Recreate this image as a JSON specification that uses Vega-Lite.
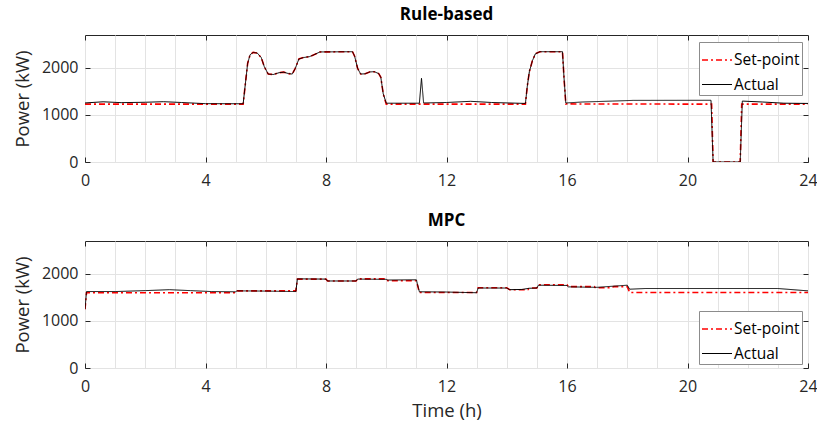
{
  "$schema": "https://vega.github.io/schema/vega-lite/v6.json",
  "padding": {"left": 12, "top": 5, "right": 5, "bottom": 5},
  "background": "white",
  "config": {
    "font": "Open Sans",
    "view": {"stroke": "#262626", "strokeWidth": 1},
    "axis": {
      "labelFont": "Open Sans", "labelFontSize": 16, "labelColor": "#262626",
      "titleFont": "Open Sans", "titleFontSize": 18.5, "titleFontWeight": "normal", "titleColor": "#262626",
      "gridColor": "#e3e3e3", "gridWidth": 1, "tickColor": "#262626", "domain": false
    },
    "legend": {
      "labelFont": "Open Sans", "labelFontSize": 15.5, "labelColor": "#000000",
      "symbolType": "stroke", "symbolSize": 900, "padding": 2, "strokeColor": "#8c8c8c",
      "fillColor": "white", "labelOffset": 1, "rowPadding": -7
    },
    "title": {"font": "Open Sans", "fontSize": 17, "fontWeight": "bold", "color": "#000000", "frame": "group", "baseline": "alphabetic", "offset": 11}
  },
  "datasets": {
    "rb": [
      {"t":0,"p":1230,"s":"Set-point"},{"t":5.25,"p":1230,"s":"Set-point"},{"t":5.33,"p":1700,"s":"Set-point"},{"t":5.4,"p":2100,"s":"Set-point"},{"t":5.48,"p":2280,"s":"Set-point"},{"t":5.58,"p":2330,"s":"Set-point"},{"t":5.72,"p":2315,"s":"Set-point"},{"t":5.85,"p":2220,"s":"Set-point"},{"t":5.95,"p":2030,"s":"Set-point"},{"t":6.08,"p":1870,"s":"Set-point"},{"t":6.25,"p":1860,"s":"Set-point"},{"t":6.45,"p":1900,"s":"Set-point"},{"t":6.6,"p":1910,"s":"Set-point"},{"t":6.75,"p":1880,"s":"Set-point"},{"t":6.88,"p":1870,"s":"Set-point"},{"t":6.98,"p":1990,"s":"Set-point"},{"t":7.1,"p":2190,"s":"Set-point"},{"t":7.25,"p":2220,"s":"Set-point"},{"t":7.45,"p":2240,"s":"Set-point"},{"t":7.6,"p":2280,"s":"Set-point"},{"t":7.8,"p":2340,"s":"Set-point"},{"t":8.88,"p":2345,"s":"Set-point"},{"t":8.95,"p":2250,"s":"Set-point"},{"t":9.05,"p":1990,"s":"Set-point"},{"t":9.15,"p":1870,"s":"Set-point"},{"t":9.3,"p":1875,"s":"Set-point"},{"t":9.45,"p":1915,"s":"Set-point"},{"t":9.6,"p":1920,"s":"Set-point"},{"t":9.75,"p":1880,"s":"Set-point"},{"t":9.82,"p":1800,"s":"Set-point"},{"t":9.9,"p":1450,"s":"Set-point"},{"t":10.0,"p":1230,"s":"Set-point"},{"t":14.62,"p":1230,"s":"Set-point"},{"t":14.68,"p":1600,"s":"Set-point"},{"t":14.75,"p":1920,"s":"Set-point"},{"t":14.85,"p":2150,"s":"Set-point"},{"t":14.95,"p":2300,"s":"Set-point"},{"t":15.1,"p":2345,"s":"Set-point"},{"t":15.85,"p":2345,"s":"Set-point"},{"t":15.9,"p":1800,"s":"Set-point"},{"t":15.96,"p":1235,"s":"Set-point"},{"t":20.8,"p":1230,"s":"Set-point"},{"t":20.85,"p":0,"s":"Set-point"},{"t":21.75,"p":0,"s":"Set-point"},{"t":21.8,"p":1230,"s":"Set-point"},{"t":24,"p":1230,"s":"Set-point"},
      {"t":0,"p":1255,"s":"Actual"},{"t":0.6,"p":1280,"s":"Actual"},{"t":1.2,"p":1262,"s":"Actual"},{"t":2.0,"p":1270,"s":"Actual"},{"t":2.6,"p":1282,"s":"Actual"},{"t":3.2,"p":1265,"s":"Actual"},{"t":4.0,"p":1240,"s":"Actual"},{"t":5.25,"p":1238,"s":"Actual"},{"t":5.33,"p":1700,"s":"Actual"},{"t":5.4,"p":2100,"s":"Actual"},{"t":5.48,"p":2280,"s":"Actual"},{"t":5.58,"p":2330,"s":"Actual"},{"t":5.72,"p":2315,"s":"Actual"},{"t":5.85,"p":2220,"s":"Actual"},{"t":5.95,"p":2030,"s":"Actual"},{"t":6.08,"p":1870,"s":"Actual"},{"t":6.25,"p":1860,"s":"Actual"},{"t":6.45,"p":1900,"s":"Actual"},{"t":6.6,"p":1910,"s":"Actual"},{"t":6.75,"p":1880,"s":"Actual"},{"t":6.88,"p":1870,"s":"Actual"},{"t":6.98,"p":1990,"s":"Actual"},{"t":7.1,"p":2190,"s":"Actual"},{"t":7.25,"p":2220,"s":"Actual"},{"t":7.45,"p":2240,"s":"Actual"},{"t":7.6,"p":2280,"s":"Actual"},{"t":7.8,"p":2340,"s":"Actual"},{"t":8.88,"p":2345,"s":"Actual"},{"t":8.95,"p":2250,"s":"Actual"},{"t":9.05,"p":1990,"s":"Actual"},{"t":9.15,"p":1870,"s":"Actual"},{"t":9.3,"p":1875,"s":"Actual"},{"t":9.45,"p":1915,"s":"Actual"},{"t":9.6,"p":1920,"s":"Actual"},{"t":9.75,"p":1880,"s":"Actual"},{"t":9.82,"p":1800,"s":"Actual"},{"t":9.9,"p":1450,"s":"Actual"},{"t":10.0,"p":1250,"s":"Actual"},{"t":11.1,"p":1250,"s":"Actual"},{"t":11.17,"p":1780,"s":"Actual"},{"t":11.24,"p":1255,"s":"Actual"},{"t":12.0,"p":1265,"s":"Actual"},{"t":12.8,"p":1290,"s":"Actual"},{"t":13.5,"p":1265,"s":"Actual"},{"t":14.62,"p":1245,"s":"Actual"},{"t":14.68,"p":1600,"s":"Actual"},{"t":14.75,"p":1920,"s":"Actual"},{"t":14.85,"p":2150,"s":"Actual"},{"t":14.95,"p":2300,"s":"Actual"},{"t":15.1,"p":2345,"s":"Actual"},{"t":15.85,"p":2345,"s":"Actual"},{"t":15.9,"p":1800,"s":"Actual"},{"t":15.96,"p":1255,"s":"Actual"},{"t":16.5,"p":1275,"s":"Actual"},{"t":17.5,"p":1295,"s":"Actual"},{"t":18.2,"p":1310,"s":"Actual"},{"t":20.78,"p":1312,"s":"Actual"},{"t":20.85,"p":0,"s":"Actual"},{"t":21.75,"p":0,"s":"Actual"},{"t":21.82,"p":1295,"s":"Actual"},{"t":22.5,"p":1275,"s":"Actual"},{"t":23.2,"p":1250,"s":"Actual"},{"t":24,"p":1245,"s":"Actual"}
    ],
    "mpc": [
      {"t":0,"p":1250,"s":"Set-point"},{"t":0.05,"p":1600,"s":"Set-point"},{"t":5.0,"p":1600,"s":"Set-point"},{"t":5.05,"p":1640,"s":"Set-point"},{"t":7.0,"p":1640,"s":"Set-point"},{"t":7.05,"p":1890,"s":"Set-point"},{"t":8.0,"p":1890,"s":"Set-point"},{"t":8.05,"p":1850,"s":"Set-point"},{"t":9.0,"p":1850,"s":"Set-point"},{"t":9.05,"p":1895,"s":"Set-point"},{"t":10.0,"p":1895,"s":"Set-point"},{"t":10.05,"p":1855,"s":"Set-point"},{"t":11.0,"p":1855,"s":"Set-point"},{"t":11.1,"p":1605,"s":"Set-point"},{"t":13.0,"p":1605,"s":"Set-point"},{"t":13.05,"p":1705,"s":"Set-point"},{"t":14.0,"p":1705,"s":"Set-point"},{"t":14.1,"p":1665,"s":"Set-point"},{"t":14.7,"p":1665,"s":"Set-point"},{"t":14.75,"p":1700,"s":"Set-point"},{"t":15.0,"p":1700,"s":"Set-point"},{"t":15.05,"p":1770,"s":"Set-point"},{"t":16.0,"p":1770,"s":"Set-point"},{"t":16.05,"p":1730,"s":"Set-point"},{"t":16.9,"p":1730,"s":"Set-point"},{"t":16.95,"p":1705,"s":"Set-point"},{"t":17.5,"p":1710,"s":"Set-point"},{"t":17.55,"p":1730,"s":"Set-point"},{"t":18.0,"p":1730,"s":"Set-point"},{"t":18.08,"p":1605,"s":"Set-point"},{"t":24,"p":1605,"s":"Set-point"},
      {"t":0,"p":1250,"s":"Actual"},{"t":0.05,"p":1625,"s":"Actual"},{"t":1.0,"p":1625,"s":"Actual"},{"t":2.0,"p":1645,"s":"Actual"},{"t":2.8,"p":1665,"s":"Actual"},{"t":3.5,"p":1645,"s":"Actual"},{"t":4.2,"p":1625,"s":"Actual"},{"t":5.0,"p":1620,"s":"Actual"},{"t":5.05,"p":1640,"s":"Actual"},{"t":6.0,"p":1635,"s":"Actual"},{"t":7.0,"p":1625,"s":"Actual"},{"t":7.05,"p":1895,"s":"Actual"},{"t":8.0,"p":1890,"s":"Actual"},{"t":8.05,"p":1850,"s":"Actual"},{"t":9.0,"p":1850,"s":"Actual"},{"t":9.05,"p":1890,"s":"Actual"},{"t":10.0,"p":1885,"s":"Actual"},{"t":10.05,"p":1870,"s":"Actual"},{"t":11.0,"p":1875,"s":"Actual"},{"t":11.1,"p":1620,"s":"Actual"},{"t":12.0,"p":1615,"s":"Actual"},{"t":13.0,"p":1600,"s":"Actual"},{"t":13.05,"p":1700,"s":"Actual"},{"t":14.0,"p":1700,"s":"Actual"},{"t":14.1,"p":1665,"s":"Actual"},{"t":14.5,"p":1670,"s":"Actual"},{"t":14.75,"p":1695,"s":"Actual"},{"t":15.0,"p":1700,"s":"Actual"},{"t":15.05,"p":1760,"s":"Actual"},{"t":16.0,"p":1755,"s":"Actual"},{"t":16.05,"p":1725,"s":"Actual"},{"t":17.0,"p":1715,"s":"Actual"},{"t":18.0,"p":1760,"s":"Actual"},{"t":18.08,"p":1675,"s":"Actual"},{"t":18.6,"p":1690,"s":"Actual"},{"t":23.0,"p":1690,"s":"Actual"},{"t":24,"p":1640,"s":"Actual"}
    ]
  },
  "spacing": 79,
  "bounds": "flush",
  "resolve": {
    "scale": {"color": "independent", "strokeDash": "independent", "strokeWidth": "independent"},
    "legend": {"color": "independent", "strokeDash": "independent", "strokeWidth": "independent"}
  },
  "vconcat": [
    {
      "title": {"text": "Rule-based"},
      "width": 723, "height": 127,
      "data": {"name": "rb"},
      "layer": [
        {
          "mark": {"type": "line", "clip": true},
          "encoding": {
            "x": {"field": "t", "type": "quantitative", "scale": {"domain": [0, 24], "nice": false, "zero": false},
              "axis": {"values": [0,1,2,3,4,5,6,7,8,9,10,11,12,13,14,15,16,17,18,19,20,21,22,23,24], "labelExpr": "datum.value % 4 === 0 ? datum.label : ''", "tickOpacity": {"condition": {"test": "datum.value % 4 === 0", "value": 1}, "value": 0}, "tickSize": -5, "labelPadding": 15, "title": null, "grid": true, "labelFlush": false}},
            "y": {"field": "p", "type": "quantitative", "scale": {"domain": [0, 2700], "nice": false},
              "axis": {"values": [0, 1000, 2000], "format": "d", "tickSize": -5, "labelPadding": 12, "title": "Power (kW)", "titlePadding": 9, "grid": true}},
            "color": {"field": "s", "type": "nominal", "scale": {"domain": ["Set-point", "Actual"], "range": ["#ff0000", "#000000"]}, "legend": {"orient": "none", "legendX": 614, "legendY": 7, "title": null}},
            "strokeDash": {"field": "s", "type": "nominal", "scale": {"domain": ["Set-point", "Actual"], "range": [[6, 3, 2, 3], [1, 0]]}, "legend": {"orient": "none", "legendX": 614, "legendY": 7, "title": null}},
            "strokeWidth": {"field": "s", "type": "nominal", "scale": {"domain": ["Set-point", "Actual"], "range": [1.6, 1]}, "legend": {"orient": "none", "legendX": 614, "legendY": 7, "title": null}}
          }
        },
        {
          "mark": {"type": "point", "opacity": 0},
          "encoding": {
            "x": {"field": "t", "type": "quantitative", "scale": {"domain": [0, 24], "nice": false, "zero": false},
              "axis": {"orient": "top", "values": [0,4,8,12,16,20,24], "labels": false, "tickSize": -5, "grid": false, "title": null}},
            "y": {"field": "p", "type": "quantitative", "scale": {"domain": [0, 2700], "nice": false},
              "axis": {"orient": "right", "values": [0, 1000, 2000], "labels": false, "tickSize": -5, "grid": false, "title": null}}
          }
        }
      ],
      "resolve": {"scale": {"x": "independent", "y": "independent"}}
    },
    {
      "title": {"text": "MPC"},
      "width": 723, "height": 127,
      "data": {"name": "mpc"},
      "layer": [
        {
          "mark": {"type": "line", "clip": true},
          "encoding": {
            "x": {"field": "t", "type": "quantitative", "scale": {"domain": [0, 24], "nice": false, "zero": false},
              "axis": {"values": [0,1,2,3,4,5,6,7,8,9,10,11,12,13,14,15,16,17,18,19,20,21,22,23,24], "labelExpr": "datum.value % 4 === 0 ? datum.label : ''", "tickOpacity": {"condition": {"test": "datum.value % 4 === 0", "value": 1}, "value": 0}, "tickSize": -5, "labelPadding": 15, "title": "Time (h)", "titlePadding": 7, "grid": true, "labelFlush": false}},
            "y": {"field": "p", "type": "quantitative", "scale": {"domain": [0, 2700], "nice": false},
              "axis": {"values": [0, 1000, 2000], "format": "d", "tickSize": -5, "labelPadding": 12, "title": "Power (kW)", "titlePadding": 9, "grid": true}},
            "color": {"field": "s", "type": "nominal", "scale": {"domain": ["Set-point", "Actual"], "range": ["#ff0000", "#000000"]}, "legend": {"orient": "none", "legendX": 614, "legendY": 70, "title": null}},
            "strokeDash": {"field": "s", "type": "nominal", "scale": {"domain": ["Set-point", "Actual"], "range": [[6, 3, 2, 3], [1, 0]]}, "legend": {"orient": "none", "legendX": 614, "legendY": 70, "title": null}},
            "strokeWidth": {"field": "s", "type": "nominal", "scale": {"domain": ["Set-point", "Actual"], "range": [1.6, 1]}, "legend": {"orient": "none", "legendX": 614, "legendY": 70, "title": null}}
          }
        },
        {
          "mark": {"type": "point", "opacity": 0},
          "encoding": {
            "x": {"field": "t", "type": "quantitative", "scale": {"domain": [0, 24], "nice": false, "zero": false},
              "axis": {"orient": "top", "values": [0,4,8,12,16,20,24], "labels": false, "tickSize": -5, "grid": false, "title": null}},
            "y": {"field": "p", "type": "quantitative", "scale": {"domain": [0, 2700], "nice": false},
              "axis": {"orient": "right", "values": [0, 1000, 2000], "labels": false, "tickSize": -5, "grid": false, "title": null}}
          }
        }
      ],
      "resolve": {"scale": {"x": "independent", "y": "independent"}}
    }
  ]
}
